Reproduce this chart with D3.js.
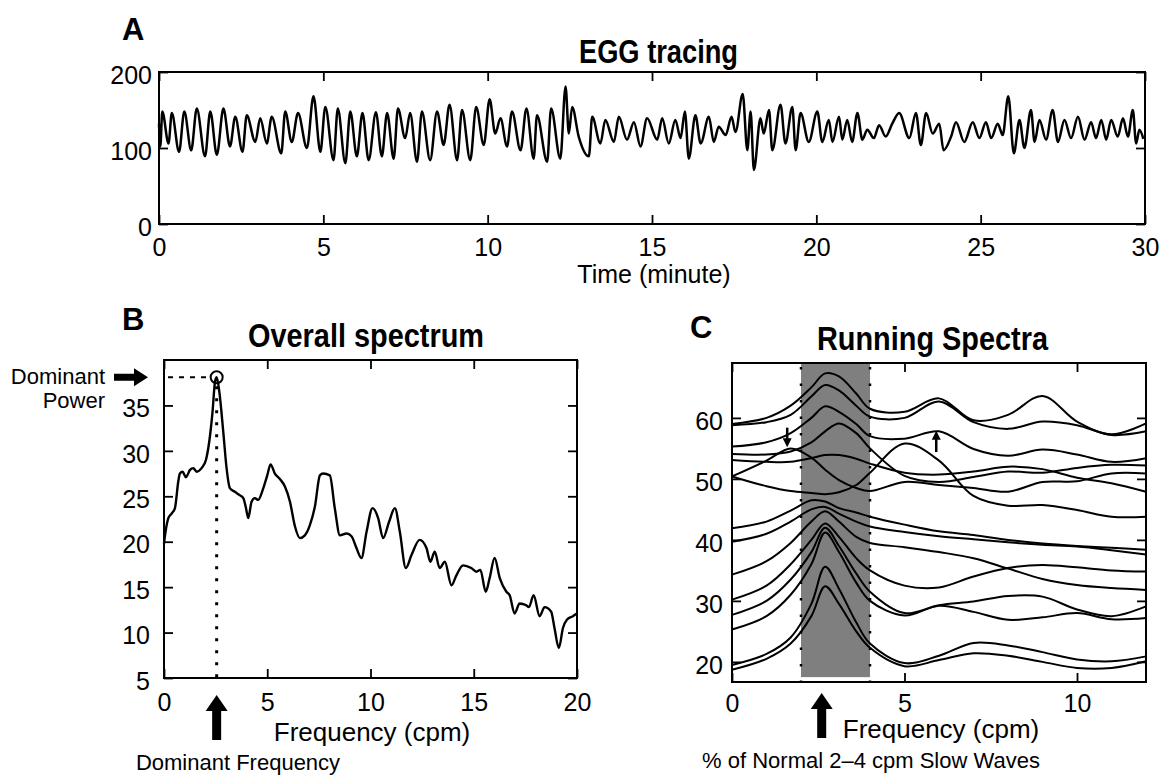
<!DOCTYPE html>
<html>
<head>
<meta charset="utf-8">
<script src="https://cdn.jsdelivr.net/npm/d3@7"></script>
<style>
  body { margin: 0; background: #fff; }
  svg text { font-family: Arial, "Liberation Sans", Helvetica, sans-serif; fill: #000; }
</style>
</head>
<body>
<svg id="chart" width="1160" height="778"></svg>
<script>
// ---- data ----
// A: EGG tracing, [minute, amplitude] at successive peaks / troughs
const eggTrace = [
  [0.00,132],[0.04,102],[0.10,148],[0.29,106],[0.39,146],[0.61,95],[0.77,148],[0.98,97],[1.15,152],[1.40,89],
  [1.56,148],[1.76,91],[1.96,152],[2.16,102],[2.32,141],[2.54,95],[2.67,143],[2.93,108],[3.08,139],[3.28,106],
  [3.43,141],[3.72,93],[3.84,148],[4.04,108],[4.23,146],[4.50,100],[4.70,168],[4.91,95],[5.06,154],[5.31,84],
  [5.44,152],[5.67,80],[5.82,148],[6.02,89],[6.19,146],[6.38,84],[6.60,147],[6.78,89],[6.94,146],[7.14,86],
  [7.27,152],[7.49,113],[7.64,146],[7.85,82],[8.00,148],[8.25,84],[8.46,148],[8.66,104],[8.84,157],[9.07,84],
  [9.22,150],[9.47,84],[9.65,154],[9.88,104],[10.06,164],[10.23,119],[10.39,139],[10.59,102],[10.74,148],[11.00,97],
  [11.18,152],[11.40,86],[11.50,143],[11.81,82],[11.93,152],[12.21,86],[12.37,181],[12.47,119],[12.57,154],[12.77,115],
  [13.08,89],[13.18,141],[13.43,106],[13.58,137],[13.84,108],[13.99,141],[14.24,111],[14.45,134],[14.65,102],[14.85,139],
  [15.16,111],[15.31,139],[15.51,106],[15.71,137],[15.87,113],[16.00,148],[16.12,86],[16.32,143],[16.48,106],[16.73,141],
  [16.88,108],[17.03,128],[17.24,117],[17.42,141],[17.54,121],[17.76,171],[17.90,97],[18.00,148],[18.10,71],[18.30,139],
  [18.40,119],[18.56,150],[18.66,97],[18.91,157],[19.06,106],[19.27,154],[19.37,97],[19.52,146],[19.77,108],[20.03,148],
  [20.18,108],[20.38,137],[20.49,108],[20.69,141],[20.79,111],[20.94,137],[21.09,108],[21.25,146],[21.40,111],[21.55,124],
  [21.75,113],[21.91,130],[22.11,115],[22.31,132],[22.52,146],[22.83,113],[23.03,146],[23.18,104],[23.34,146],[23.54,119],
  [23.74,132],[23.87,97],[24.10,115],[24.25,134],[24.50,108],[24.76,134],[24.96,113],[25.16,134],[25.32,113],[25.52,132],
  [25.67,117],[25.84,168],[26.01,93],[26.18,137],[26.33,100],[26.53,150],[26.64,108],[26.79,137],[26.99,111],[27.19,150],
  [27.35,108],[27.55,137],[27.75,113],[27.96,141],[28.16,111],[28.36,134],[28.51,113],[28.67,137],[28.82,111],[28.97,137],
  [29.17,115],[29.33,139],[29.48,115],[29.63,150],[29.73,106],[29.83,124],[29.95,112]
];
const eggXTicks = [0, 5, 10, 15, 20, 25, 30];
const eggYTicks = [0, 100, 200];

// B: overall spectrum, [cpm, power]
const spectrum = [
  [0.00,19.8],[0.05,20.7],[0.21,22.6],[0.37,23.1],[0.53,23.7],[0.69,26.6],[0.77,27.5],[0.90,27.7],[1.06,27.1],[1.26,27.9],
  [1.42,28.1],[1.58,27.7],[1.82,28.1],[2.03,29.0],[2.19,31.0],[2.35,34.3],[2.47,37.6],[2.55,38.1],[2.68,36.5],[2.87,32.1],
  [3.03,28.1],[3.19,25.9],[3.43,25.5],[3.68,25.1],[3.84,24.8],[3.97,23.7],[4.08,22.6],[4.24,24.4],[4.40,24.8],[4.56,24.6],
  [4.81,25.9],[5.00,27.3],[5.16,28.5],[5.37,27.5],[5.61,26.9],[5.85,26.1],[6.10,24.4],[6.34,21.7],[6.58,20.4],[6.82,20.7],
  [7.06,21.8],[7.31,23.9],[7.55,27.3],[7.71,27.5],[8.03,27.3],[8.27,23.7],[8.52,20.7],[8.84,20.9],[9.08,20.6],[9.32,19.3],
  [9.56,18.2],[9.81,21.1],[10.10,23.7],[10.37,22.6],[10.61,20.4],[10.90,22.2],[11.18,23.7],[11.42,21.1],[11.71,17.1],[11.98,18.5],
  [12.38,20.2],[12.71,19.3],[12.90,17.8],[13.11,18.9],[13.35,17.1],[13.60,17.8],[13.92,15.2],[14.16,16.3],[14.48,17.4],[14.88,17.1],
  [15.13,16.7],[15.32,16.9],[15.58,14.5],[15.77,16.0],[16.01,18.2],[16.26,16.0],[16.58,14.5],[16.74,14.1],[16.98,12.1],[17.22,13.2],
  [17.54,13.0],[17.67,12.8],[17.90,14.1],[18.19,11.8],[18.43,12.8],[18.75,12.3],[18.91,10.5],[19.12,8.3],[19.32,10.5],[19.51,11.4],
  [19.80,11.8],[20.00,12.1]
];
const dominantFreq = 2.55;
const dominantPower = 38.1;
const specXTicks = [0, 5, 10, 15, 20];
const specYTicks = [5, 10, 15, 20, 25, 30, 35];

// C: running spectra, one row per spectrum sampled at runFreqs
const runFreqs = [0, 1, 1.7, 2.3, 2.7, 3.1, 3.6, 4, 5, 6, 7, 8, 9, 10, 11, 12];
const runSpectra = [
  [59.0, 60.0, 62.0, 65.0, 67.3, 66.8, 64.0, 61.5, 61.0, 63.2, 59.6, 60.5, 63.6, 59.4, 57.3, 59.1],
  [58.8, 59.3, 60.5, 63.5, 65.4, 64.5, 62.0, 60.2, 60.0, 62.7, 59.3, 58.2, 59.4, 58.8, 57.2, 57.8],
  [55.3, 56.0, 57.5, 60.0, 61.9, 61.0, 59.0, 57.0, 56.6, 57.8, 54.9, 53.8, 54.8, 54.0, 52.8, 53.4],
  [54.1, 54.0, 54.5, 56.0, 57.8, 59.1, 57.5, 55.0, 50.5, 49.5, 50.3, 51.2, 51.0, 51.8, 52.3, 52.2],
  [50.4, 53.0, 55.0, 53.5, 51.5, 49.8, 48.5, 48.0, 49.5, 49.0, 48.5, 47.9, 49.5, 49.6, 50.9, 50.9],
  [50.4, 48.8, 48.0, 47.7, 47.5, 47.8, 49.0, 51.0, 55.8, 53.0, 47.2, 45.6, 45.7, 44.9, 43.8, 43.8],
  [53.1, 52.8, 52.8, 53.4, 53.9, 53.9, 53.3, 52.5, 51.0, 50.7, 51.2, 52.0, 51.6, 50.2, 49.3, 47.9],
  [41.9, 43.0, 44.8, 46.5, 46.3, 45.2, 44.5, 43.8, 42.5, 41.4, 40.8, 40.0, 39.4, 39.0, 38.7, 38.4],
  [39.7, 41.0, 43.0, 45.0, 45.4, 44.3, 43.0, 42.2, 41.3, 40.6, 40.1, 39.6, 39.2, 38.9, 38.3, 37.6],
  [34.3, 36.5, 39.5, 43.0, 44.7, 43.0, 40.5, 39.5, 38.8, 38.0, 37.0, 35.3, 33.6, 32.6, 32.1, 31.8],
  [30.2, 32.5, 36.0, 40.0, 42.7, 40.5, 37.0, 35.0, 32.5, 32.2, 34.0, 35.4, 35.9, 35.5, 35.0, 34.8],
  [27.7, 30.0, 33.5, 38.0, 42.0, 39.0, 34.5, 31.5, 28.0, 29.3, 29.9, 30.8, 30.7, 28.6, 27.5, 29.1],
  [25.3, 27.5, 31.0, 36.0, 41.2, 38.0, 33.0, 30.0, 27.6, 29.2, 28.2, 26.9, 27.3, 28.0, 27.0, 27.2],
  [19.5, 21.3, 24.0, 29.5, 35.6, 32.0, 26.5, 23.0, 19.8, 21.0, 23.1, 22.7, 21.6, 20.4, 20.1, 20.9],
  [18.7, 20.5, 23.0, 27.5, 32.4, 29.5, 25.0, 22.3, 19.3, 20.3, 21.4, 21.0, 20.0, 19.0, 19.0, 20.1]
];
const normalBand = [2, 4];
const bandFloor = 17.5;
const markerArrows = [
  {f: 1.6, from: 58.4, to: 55.2},
  {f: 5.92, from: 54.4, to: 57.9}
];
const runPeakFreq = 2.6;
const runXTicks = [0, 5, 10];
const runYTicks = [20, 30, 40, 50, 60];

// ---- drawing ----
const svg = d3.select("#chart");
const FONT = 'Arial, "Liberation Sans", Helvetica, sans-serif';

// framed axes, ticks pointing inward on all four sides
function frame(x, y, xTicks, yTicks, xPad, yPad) {
  const g = svg.append("g");
  const [xa, xb] = x.range(), [yb, ya] = y.range();
  const axis = (gen, tx, ty, keepText) => {
    const a = g.append("g").attr("transform", `translate(${tx},${ty})`).call(gen);
    a.select(".domain").remove();
    a.attr("font-size", 25).attr("font-family", FONT);
    a.selectAll(".tick line").attr("stroke", "#000").attr("stroke-width", 1.8);
    if (!keepText) a.selectAll("text").remove();
    return a;
  };
  axis(d3.axisBottom(x).tickValues(xTicks).tickSize(-9).tickPadding(xPad), 0, yb, true);
  axis(d3.axisTop(x).tickValues(xTicks).tickSize(-9).tickFormat(""), 0, ya, false);
  axis(d3.axisLeft(y).tickValues(yTicks).tickSize(-9).tickPadding(yPad), xa, 0, true)
    .selectAll("text").attr("dy", "0.45em");
  axis(d3.axisRight(y).tickValues(yTicks).tickSize(-9).tickFormat(""), xb, 0, false);
  g.append("rect")
    .attr("x", xa).attr("y", ya).attr("width", xb - xa).attr("height", yb - ya)
    .attr("fill", "none").attr("stroke", "#000").attr("stroke-width", 2);
}

function title(txt, x, y, len) {
  svg.append("text").attr("x", x).attr("y", y)
    .attr("font-size", 33).attr("font-weight", "bold")
    .attr("textLength", len).attr("lengthAdjust", "spacingAndGlyphs")
    .text(txt);
}
function letter(txt, x, y) {
  svg.append("text").attr("x", x).attr("y", y)
    .attr("font-size", 31).attr("font-weight", "bold").text(txt);
}
function label(txt, x, y, size, anchor) {
  svg.append("text").attr("x", x).attr("y", y)
    .attr("font-size", size).attr("text-anchor", anchor || "middle").text(txt);
}
const upArrow = "M0,0 L11,16 L4.5,16 L4.5,45 L-4.5,45 L-4.5,16 L-11,16 Z";

// ---------- A: EGG tracing ----------
const xA = d3.scaleLinear().domain([0, 30]).range([159, 1145]);
const yA = d3.scaleLinear().domain([0, 200]).range([224, 72]);

svg.append("path")
  .datum(eggTrace)
  .attr("fill", "none").attr("stroke", "#000").attr("stroke-width", 2.5)
  .attr("stroke-linejoin", "round")
  .attr("d", d3.line().x(d => xA(d[0])).y(d => yA(d[1])).curve(d3.curveMonotoneX));

frame(xA, yA, eggXTicks, eggYTicks, 14, 7);
letter("A", 122, 40);
title("EGG tracing", 579, 63, 159);
label("Time (minute)", 654, 283, 25);

// ---------- B: Overall spectrum ----------
const xB = d3.scaleLinear().domain([0, 20]).range([164, 577]);
const yB = d3.scaleLinear().domain([5, 40]).range([678, 360]);

svg.append("path")
  .datum(spectrum)
  .attr("fill", "none").attr("stroke", "#000").attr("stroke-width", 2.4)
  .attr("stroke-linejoin", "round")
  .attr("d", d3.line().x(d => xB(d[0])).y(d => yB(d[1])).curve(d3.curveMonotoneX));

// dominant frequency / power guides
svg.append("line")
  .attr("x1", xB(dominantFreq)).attr("x2", xB(dominantFreq))
  .attr("y1", yB(dominantPower) + 9).attr("y2", yB(5))
  .attr("stroke", "#000").attr("stroke-width", 3).attr("stroke-dasharray", "3,9");
svg.append("line")
  .attr("x1", xB(0) + 4).attr("x2", xB(dominantFreq) - 7)
  .attr("y1", yB(dominantPower)).attr("y2", yB(dominantPower))
  .attr("stroke", "#000").attr("stroke-width", 1.8).attr("stroke-dasharray", "5,6");
svg.append("circle")
  .attr("cx", xB(dominantFreq)).attr("cy", yB(dominantPower)).attr("r", 6)
  .attr("fill", "none").attr("stroke", "#000").attr("stroke-width", 2);

frame(xB, yB, specXTicks, specYTicks, 15, 14);
letter("B", 122, 330);
title("Overall spectrum", 248, 347, 236);
label("Frequency (cpm)", 372, 741, 26);
label("Dominant Frequency", 238, 770, 22);
label("Dominant", 105, 384, 22, "end");
label("Power", 105, 408, 22, "end");

svg.append("path")
  .attr("d", upArrow)
  .attr("transform", `translate(${xB(dominantFreq)},695)`)
  .attr("fill", "#000");
svg.append("path")
  .attr("d", "M0,0 L-14,-9 L-14,-3.5 L-34,-3.5 L-34,3.5 L-14,3.5 L-14,9 Z")
  .attr("transform", `translate(148,${yB(dominantPower)})`)
  .attr("fill", "#000");

// ---------- C: Running spectra ----------
const xC = d3.scaleLinear().domain([0, 12]).range([732, 1146]);
const yC = d3.scaleLinear().domain([16.7, 69]).range([682, 363]);

svg.append("rect")
  .attr("x", xC(normalBand[0])).attr("width", xC(normalBand[1]) - xC(normalBand[0]))
  .attr("y", yC.range()[1]).attr("height", yC(bandFloor) - yC.range()[1])
  .attr("fill", "#7f7f7f");
svg.selectAll(".band-edge")
  .data(normalBand)
  .enter().append("line")
  .attr("x1", d => xC(d)).attr("x2", d => xC(d))
  .attr("y1", yC.range()[1] + 4).attr("y2", yC.range()[0])
  .attr("stroke", "#000").attr("stroke-width", 2.5).attr("stroke-dasharray", "2.5,14");

const runLine = d3.line()
  .x((d, i) => xC(runFreqs[i]))
  .y(d => yC(d))
  .curve(d3.curveCatmullRom.alpha(0.5));
svg.selectAll(".run")
  .data(runSpectra)
  .enter().append("path")
  .attr("fill", "none").attr("stroke", "#000").attr("stroke-width", 2)
  .attr("d", runLine);

// small pointer arrows on the spectra
markerArrows.forEach(a => {
  const dir = a.to < a.from ? 1 : -1;
  const x = xC(a.f), yTip = yC(a.to);
  svg.append("line")
    .attr("x1", x).attr("x2", x)
    .attr("y1", yC(a.from)).attr("y2", yTip - dir * 6)
    .attr("stroke", "#000").attr("stroke-width", 2.5);
  svg.append("path")
    .attr("d", `M${x},${yTip} L${x - 4.5},${yTip - dir * 9} L${x + 4.5},${yTip - dir * 9} Z`)
    .attr("fill", "#000");
});

frame(xC, yC, runXTicks, runYTicks, 12, 9);
letter("C", 690, 338);
title("Running Spectra", 817, 350, 231);
label("Frequency (cpm)", 941, 738, 26);
label("% of Normal 2\u20134 cpm Slow Waves", 871, 768, 22);

svg.append("path")
  .attr("d", upArrow)
  .attr("transform", `translate(${xC(runPeakFreq)},693)`)
  .attr("fill", "#000");
</script>
</body>
</html>
